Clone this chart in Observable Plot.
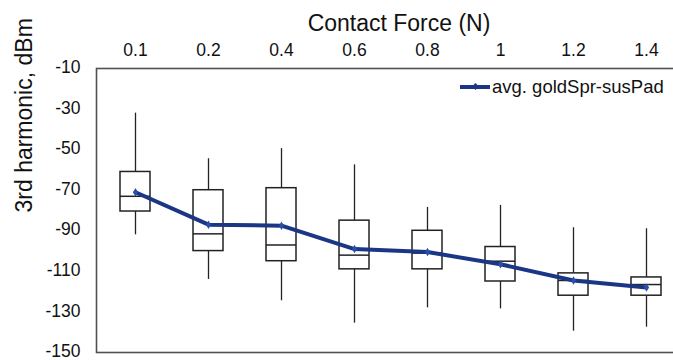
<!DOCTYPE html>
<html>
<head>
<meta charset="utf-8">
<script src="https://cdn.jsdelivr.net/npm/d3@7"></script>
<script src="https://cdn.jsdelivr.net/npm/@observablehq/plot@0.6"></script>
<style>
  html, body { margin: 0; padding: 0; background: #fff; }
  #wrap { position: relative; width: 673px; height: 360px; font-family: "Liberation Sans", Arial, sans-serif; }
  #legend { position: absolute; left: 460px; top: 76px; display: flex; align-items: center; font-size: 18.5px; color: #111; white-space: nowrap; }
  #legend .sw { position: relative; width: 30px; height: 4px; background: #1a3684; margin-right: 2px; }
  #legend .sw i { position: absolute; left: 13px; top: -1px; width: 5px; height: 5px; background: #1a3684; transform: rotate(45deg); }
</style>
</head>
<body>
<div id="wrap"><div id="legend"><span class="sw"><i></i></span><span>avg. goldSpr-susPad</span></div></div>
<script>
const forces  = ["0.1", "0.2", "0.4", "0.6", "0.8", "1", "1.2", "1.4"];
const maxs    = [-32, -54.5, -49.5, -57.5, -78.5, -77.5, -88.5, -89];
const q3s     = [-61, -70, -69, -85, -90, -98, -111, -113];
const medians = [-73, -91.5, -97, -102, -101, -105, -114.5, -116.5];
const q1s     = [-80.5, -100, -105, -109, -109, -115, -122, -122];
const mins    = [-92, -114, -124.5, -135.5, -128, -128.5, -139.5, -137.5];
const avgs    = [-71, -87, -87.5, -99, -100.5, -106.5, -114.5, -118];
const yTicks  = [-10, -30, -50, -70, -90, -110, -130, -150];
const xTitle  = "Contact Force (N)";
const yTitle  = "3rd harmonic, dBm";

const rows = forces.map((f, i) => ({
  force: f, max: maxs[i], q3: q3s[i], median: medians[i], q1: q1s[i], min: mins[i], avg: avgs[i]
}));

const navy = "#1a3684";
const ink = "#222";

const chart = Plot.plot({
  width: 673,
  height: 360,
  marginTop: 68,
  marginBottom: 8,
  marginLeft: 96,
  marginRight: -12,
  style: { fontFamily: "Liberation Sans, Arial, sans-serif", fontSize: "17.5px", color: "#111", background: "#fff", overflow: "visible" },
  x: { type: "band", domain: forces, paddingInner: 0.592, paddingOuter: 0.296, axis: null },
  y: { domain: [-150, -10], axis: null },
  marks: [
    Plot.frame({ stroke: "#505050", strokeWidth: 1.6 }),
    Plot.axisX({ anchor: "top", tickSize: 0, tickPadding: 13, label: null, fontSize: 17.5 }),
    Plot.axisY({ ticks: yTicks, tickSize: 0, tickPadding: 16, label: null, tickFormat: d => String(d), fontSize: 17.5, dy: -1 }),
    Plot.text([xTitle], { frameAnchor: "top", dy: -45, dx: 8, fontSize: 23, lineAnchor: "middle", fill: "#111" }),
    Plot.text([yTitle], { frameAnchor: "left", rotate: -90, dx: -72, dy: 2, fontSize: 23, lineAnchor: "middle", fill: "#111" }),
    Plot.ruleX(rows, { x: "force", y1: "min", y2: "q1", stroke: ink, strokeWidth: 1.3 }),
    Plot.ruleX(rows, { x: "force", y1: "q3", y2: "max", stroke: ink, strokeWidth: 1.3 }),
    Plot.ruleY(rows, { x: "force", y: "max", insetLeft: 12, insetRight: 12, stroke: ink, strokeWidth: 1.5 }),
    Plot.ruleY(rows, { x: "force", y: "min", insetLeft: 12, insetRight: 12, stroke: ink, strokeWidth: 1.5 }),
    Plot.barY(rows, { x: "force", y1: "q1", y2: "q3", fill: "white", stroke: ink, strokeWidth: 1.5 }),
    Plot.tickY(rows, { x: "force", y: "median", stroke: ink, strokeWidth: 1.5 }),
    Plot.line(rows, { x: "force", y: "avg", stroke: navy, strokeWidth: 4, strokeLinejoin: "round" }),
    Plot.dot(rows, { x: "force", y: "avg", symbol: "diamond", r: 2.6, fill: "#2a4fa8", stroke: "none" })
  ]
});

document.getElementById("wrap").insertBefore(chart, document.getElementById("legend"));
</script>
</body>
</html>
